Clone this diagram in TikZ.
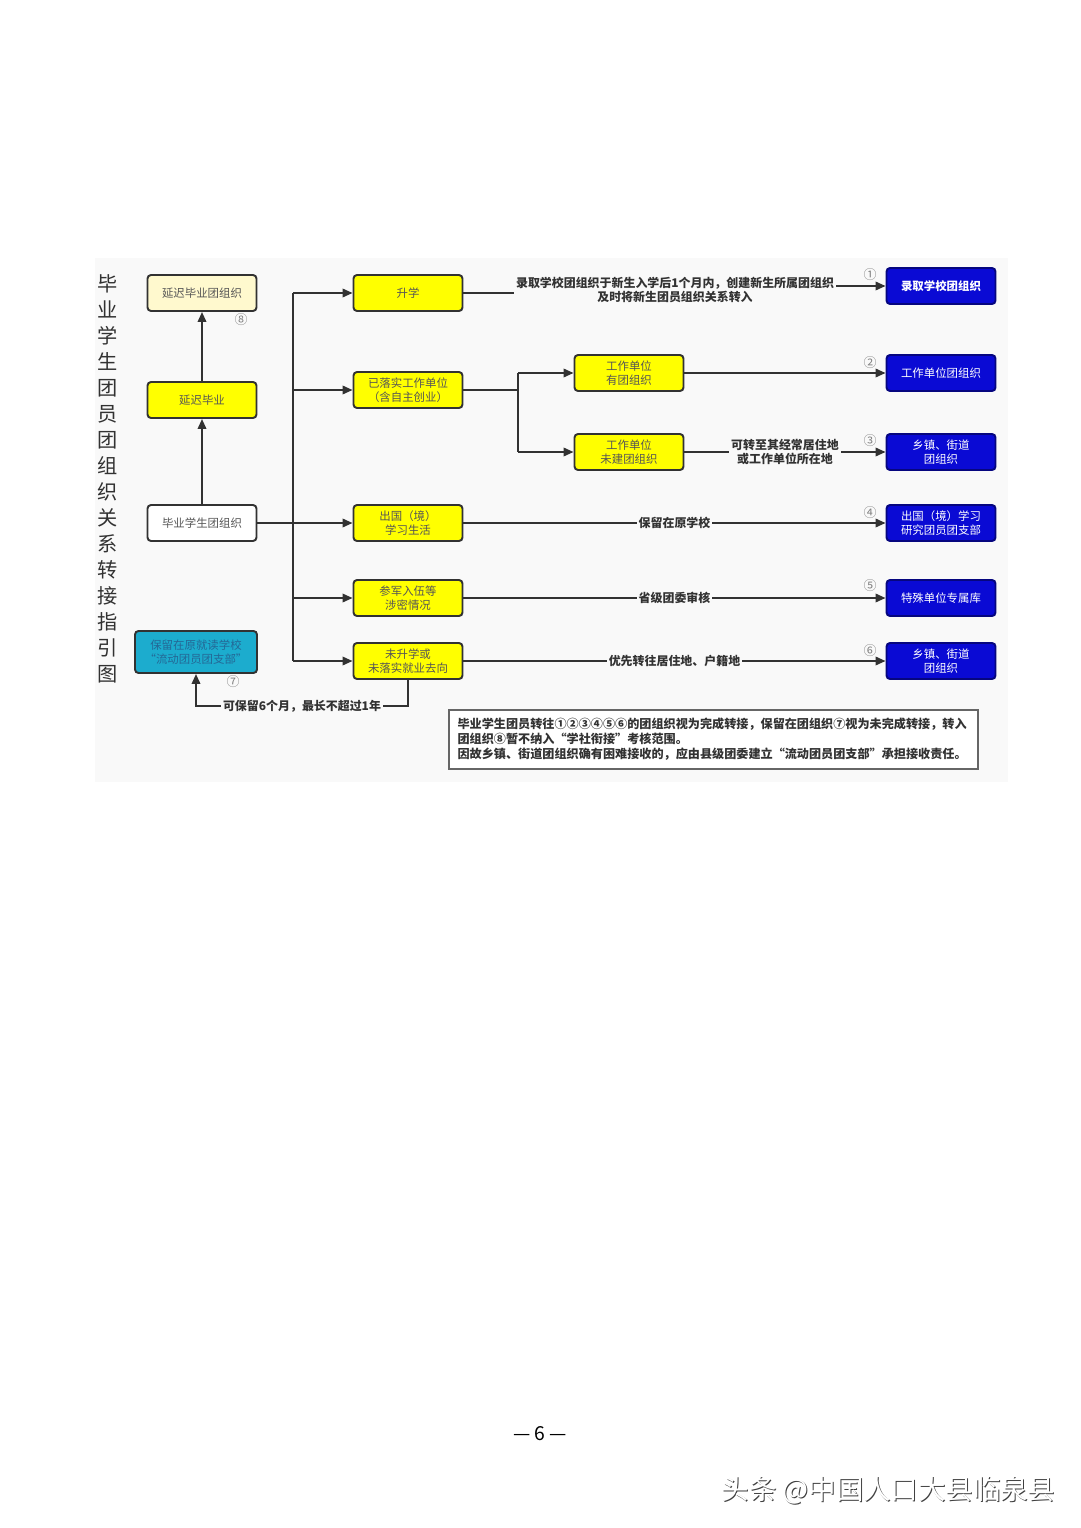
\documentclass[tikz,border=0pt]{standalone}
\usepackage{fontspec}
\setmainfont{Noto Sans CJK SC}
\usetikzlibrary{arrows.meta, positioning, calc}
\definecolor{boxyellow}{RGB}{255,255,0}
\definecolor{boxcream}{RGB}{255,249,206}
\definecolor{boxblue}{RGB}{10,10,212}
\definecolor{boxteal}{RGB}{28,172,206}
\definecolor{tealtext}{RGB}{36,104,150}
\definecolor{linegray}{RGB}{50,50,50}
\definecolor{softtext}{RGB}{85,85,85}
\definecolor{panelgray}{RGB}{249,249,249}

\tikzset{
  flowbox/.style={draw=linegray, line width=1.1pt, rounded corners=2pt,
    minimum width=2.18cm, minimum height=0.72cm, inner sep=1pt, align=center,
    font=\fontsize{6.5}{7.8}\selectfont, text=softtext},
  yellowbox/.style={flowbox, fill=boxyellow},
  bluebox/.style={flowbox, fill=boxblue, draw=boxblue!60!black, text=white},
  pathlabel/.style={fill=panelgray, inner sep=1pt, align=center,
    font=\fontsize{6.8}{8.2}\selectfont\bfseries, text=linegray},
  circnum/.style={font=\fontsize{7.4}{7.4}\selectfont, text=gray},
  flowline/.style={draw=linegray, line width=1.1pt},
  flowarrow/.style={flowline, -{Triangle[length=0.2cm, width=0.17cm]}},
}

\begin{document}
\begin{tikzpicture}[x=0.02cm, y=-0.02cm]
\useasboundingbox[fill=white] (0,0) rectangle (1080,1528);
\fill[panelgray] (95,258) rectangle (1008,782);

% title
\node[align=center, text=linegray, font=\fontsize{11.5}{14.8}\selectfont] (title) at (108,478.5)
  {毕\\业\\学\\生\\团\\员\\团\\组\\织\\关\\系\\转\\接\\指\\引\\图};

% left column
\node[flowbox, fill=boxcream] (delayorg) at (202,293) {延迟毕业团组织};
\node[yellowbox] (delay) at (202,400) {延迟毕业};
\node[flowbox, fill=white] (grad) at (202,523) {毕业学生团组织};
\node[flowbox, fill=boxteal, text=tealtext, minimum width=2.44cm, minimum height=0.84cm] (keep) at (196,652)
  {保留在原就读学校\\“流动团员团支部”};

% middle column
\node[yellowbox] (study) at (408,293) {升学};
\node[yellowbox] (job) at (408,390) {已落实工作单位\\（含自主创业）};
\node[yellowbox] (abroad) at (408,523) {出国（境）\\学习生活};
\node[yellowbox] (army) at (408,598) {参军入伍等\\涉密情况};
\node[yellowbox] (none) at (408,661) {未升学或\\未落实就业去向};
\node[yellowbox] (jobyes) at (629,373) {工作单位\\有团组织};
\node[yellowbox] (jobno) at (629,452) {工作单位\\未建团组织};

% right column
\node[bluebox, font=\fontsize{6.5}{7.8}\selectfont\bfseries] (school) at (941,286) {录取学校团组织};
\node[bluebox] (workorg) at (941,373) {工作单位团组织};
\node[bluebox] (town) at (941,452) {乡镇、街道\\团组织};
\node[bluebox] (abroadorg) at (941,523) {出国（境）学习\\研究团员团支部};
\node[bluebox] (special) at (941,598) {特殊单位专属库};
\node[bluebox] (hometown) at (941,661) {乡镇、街道\\团组织};

% circled numbers
\node[circnum] (n1) at (870,275) {①};
\node[circnum] (n2) at (870,363) {②};
\node[circnum] (n3) at (870,441) {③};
\node[circnum] (n4) at (870,513) {④};
\node[circnum] (n5) at (870,586) {⑤};
\node[circnum] (n6) at (870,651) {⑥};
\node[circnum] (n7) at (233,682) {⑦};
\node[circnum] (n8) at (241,320) {⑧};

% left column arrows
\draw[flowarrow] (grad) -- (delay);
\draw[flowarrow] (delay) -- (delayorg);

% trunk
\coordinate (trunktop) at (293,293);
\coordinate (trunkbot) at (293,661);
\draw[flowline] (trunktop) -- (trunkbot);
\draw[flowarrow] (grad) -- (abroad);
\foreach \n in {study, job, army, none}
  \draw[flowarrow] (trunktop |- \n.west) -- (\n.west);

% work split
\coordinate (split) at (518,390);
\draw[flowline] (job.east) -- (split);
\draw[flowline] (split |- jobyes.west) -- (split |- jobno.west);
\draw[flowarrow] (split |- jobyes.west) -- (jobyes.west);
\draw[flowarrow] (split |- jobno.west) -- (jobno.west);

% to the receiving organisations
\node[pathlabel] (lbl1) at (675,290)
  {录取学校团组织于新生入学后1个月内，创建新生所属团组织\\及时将新生团员组织关系转入};
\draw[flowline] (study.east) -- (lbl1.west |- study.east);
\draw[flowarrow] (lbl1.east |- school.west) -- (school.west);
\draw[flowarrow] (jobyes) -- (workorg);
\draw[flowarrow] (jobno) -- node[pathlabel] (lbl3) {可转至其经常居住地\\或工作单位所在地} (town);
\draw[flowarrow] (abroad) -- node[pathlabel] (lbl4) {保留在原学校} (abroadorg);
\draw[flowarrow] (army) -- node[pathlabel] (lbl5) {省级团委审核} (special);
\draw[flowarrow] (none) -- node[pathlabel] (lbl6) {优先转往居住地、户籍地} (hometown);
\draw[flowarrow] (none.south) -- ++(0,26) -| node[pathlabel, pos=0.25] (lbl7) {可保留6个月，最长不超过1年} (keep.south);

% note
\node[draw=gray!80!black, line width=1.2pt, fill=white, text width=10.24cm, inner sep=0.17cm,
      align=left, text=linegray, font=\fontsize{6.9}{8.5}\selectfont\bfseries] (note) at (713.5,739.5)
  {毕业学生团员转往①②③④⑤⑥的团组织视为完成转接，保留在团组织⑦视为未完成转接，转入\\
   团组织⑧暂不纳入“学社衔接”考核范围。\\
   因故乡镇、街道团组织确有困难接收的，应由县级团委建立“流动团员团支部”承担接收责任。};

% page foot
\node[font=\fontsize{11}{11}\selectfont, text=black] (pagenum) at (540,1434) {— 6 —};
\node[font=\fontsize{15.6}{15.6}\selectfont, text=black!75] (markshade) at (889.5,1491) {头条 @中国人口大县临泉县};
\node[font=\fontsize{15.6}{15.6}\selectfont, text=white] (mark) at (888.5,1490) {头条 @中国人口大县临泉县};
\end{tikzpicture}
\end{document}
